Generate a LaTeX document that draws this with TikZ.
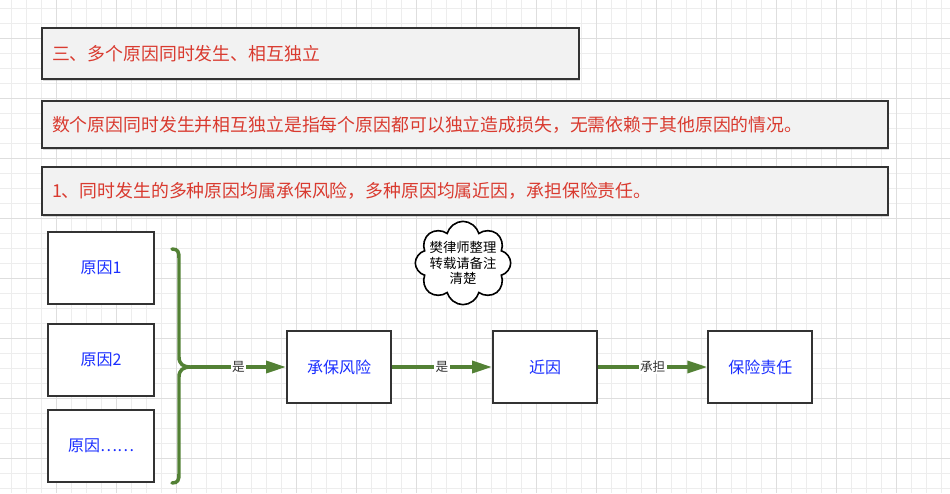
\documentclass[tikz,border=0pt]{standalone}
\usepackage{fontspec}
\setmainfont{Noto Sans CJK SC}
\usetikzlibrary{arrows.meta,positioning,shapes.symbols,shadows}
\definecolor{NoteRed}{HTML}{D93A2F}
\definecolor{CauseBlue}{HTML}{1A2EFF}
\definecolor{LinkGreen}{HTML}{538135}
\definecolor{BoxLine}{HTML}{333333}
\definecolor{BoxFill}{HTML}{F2F2F2}
\definecolor{GridMinor}{HTML}{EDEDED}
\definecolor{GridMajor}{HTML}{DEDEDE}
\tikzset{
  headbox/.style={draw=BoxLine, fill=BoxFill, line width=1.5pt, anchor=north west,
                  align=left, text=NoteRed, inner xsep=7.5pt,
                  drop shadow={shadow xshift=0.4pt, shadow yshift=-1.2pt, opacity=0.3},
                  font=\fontsize{13.4}{15}\selectfont},
  causebox/.style={draw=BoxLine, fill=white, line width=1.5pt,
                   minimum width=80pt, minimum height=54pt,
                   text=CauseBlue, font=\fontsize{12}{14}\selectfont},
  stepbox/.style={causebox, minimum width=78pt},
  flowarrow/.style={-{Triangle[length=15pt,width=9pt]}, line width=2.6pt, LinkGreen},
  linklabel/.style={fill=white, inner sep=1pt, text=black!80,
                    font=\fontsize{9.5}{10}\selectfont},
  brace/.style={line width=2.6pt, LinkGreen, line cap=round},
}

\begin{document}
\begin{tikzpicture}[x=0.75pt, y=-0.75pt]

  \useasboundingbox (0,0) rectangle (950,493);

  % background grid
  \foreach \gx in {11.7,26.7,...,950}
    \draw[GridMinor, line width=0.6pt] (\gx,0) -- (\gx,493);
  \foreach \gy in {8.3,23.3,...,493}
    \draw[GridMinor, line width=0.6pt] (0,\gy) -- (950,\gy);
  \foreach \gx in {56.7,116.7,...,950}
    \draw[GridMajor, line width=0.7pt] (\gx,0) -- (\gx,493);
  \foreach \gy in {38.3,98.3,...,493}
    \draw[GridMajor, line width=0.7pt] (0,\gy) -- (950,\gy);

  % heading boxes
  \node[headbox, text width=387.75pt, minimum height=38.25pt] (title) at (41,27)
    {三、多个原因同时发生、相互独立};
  \node[headbox, text width=619.5pt, minimum height=35.25pt] (define) at (41,100)
    {数个原因同时发生并相互独立是指每个原因都可以独立造成损失，无需依赖于其他原因的情况。};
  \node[headbox, text width=619.5pt, minimum height=36pt] (rule) at (41,166)
    {1、同时发生的多种原因均属承保风险，多种原因均属近因，承担保险责任。};

  % causes
  \node[causebox] (cause1) at (101,268) {原因1};
  \node[causebox] (cause2) at (101,360) {原因2};
  \node[causebox] (causen) at (101,446) {原因……};

  % brace joining the causes
  \coordinate (bracetip) at (191,367);
  \draw[brace] (172,249) .. controls (178,249) and (179,252) .. (179,258)
    -- (179,357) .. controls (179,364) and (183,367) .. (bracetip)
    .. controls (183,367) and (179,370) .. (179,377)
    -- (179,474) .. controls (179,480) and (178,483) .. (172,483);

  % chain of consequences
  \node[stepbox] (risk) at (339,367) {承保风险};
  \node[stepbox, right=75pt of risk] (proximate) {近因};
  \node[stepbox, right=82pt of proximate] (liability) {保险责任};

  \draw[flowarrow] (bracetip) -- node[linklabel] {是} (risk);
  \draw[flowarrow] (risk) -- node[linklabel] {是} (proximate);
  \draw[flowarrow] (proximate) -- node[linklabel] {承担} (liability);

  % note cloud
  \node[cloud, draw=black, fill=white, line width=1.2pt, cloud puffs=8, aspect=1.3,
        inner sep=-3pt, align=center, font=\fontsize{10}{11.6}\selectfont] (note) at (463,263)
    {樊律师整理\\转载请备注\\清楚};

\end{tikzpicture}
\end{document}
